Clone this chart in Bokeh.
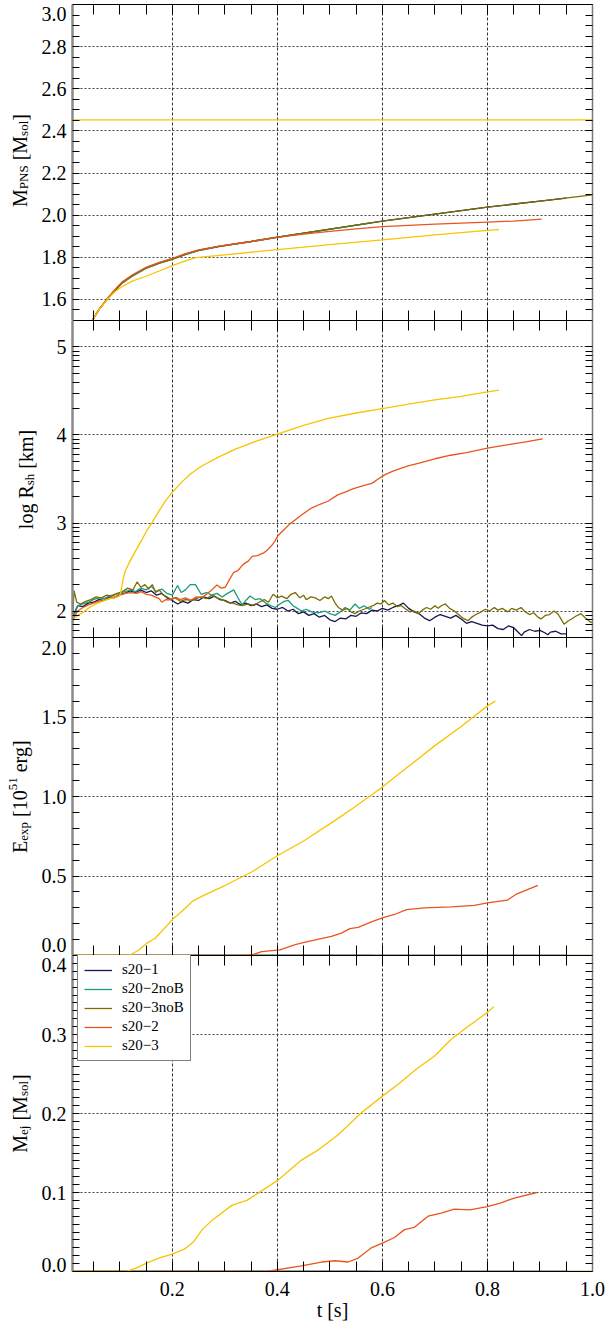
import math
from bokeh.plotting import figure
from bokeh.layouts import column, row
from bokeh.models import (Range1d, FixedTicker, LinearAxis, Label, Legend,
                          LegendItem, PrintfTickFormatter)
from bokeh.embed import file_html
from bokeh.resources import INLINE

# ------------------------------------------------------------------ data
series_names = ["s20\u22121", "s20\u22122noB", "s20\u22123noB", "s20\u22122", "s20\u22123"]
series_colors = ["#16164e", "#1a9c82", "#7b6d00", "#e8561c", "#f8c400"]

x_major_ticks = [0.2, 0.4, 0.6, 0.8, 1.0]
x_grid_ticks = [0.2, 0.4, 0.6, 0.8]

# Panel 1 : M_PNS [M_sol]
t_mpns_s20_1 = [0.045, 0.06, 0.078, 0.09, 0.104, 0.125, 0.15, 0.175, 0.2, 0.225, 0.25, 0.289, 0.35, 0.4, 0.5, 0.6, 0.7, 0.8, 0.9, 0.95]
mpns_s20_1 = [1.49, 1.55, 1.608, 1.64, 1.679, 1.715, 1.75, 1.773, 1.792, 1.815, 1.833, 1.852, 1.875, 1.896, 1.934, 1.972, 2.005, 2.038, 2.067, 2.081]
t_mpns_s20_2nob = [0.045, 0.06, 0.078, 0.09, 0.104, 0.125, 0.15, 0.175, 0.2, 0.225, 0.25, 0.289, 0.35, 0.4, 0.5, 0.58]
mpns_s20_2nob = [1.49, 1.55, 1.606, 1.638, 1.676, 1.712, 1.747, 1.771, 1.790, 1.813, 1.832, 1.851, 1.874, 1.895, 1.933, 1.964]
t_mpns_s20_3nob = [0.045, 0.06, 0.078, 0.09, 0.104, 0.125, 0.15, 0.175, 0.2, 0.225, 0.25, 0.289, 0.35, 0.4, 0.5, 0.6, 0.7, 0.8, 0.9, 1.0]
mpns_s20_3nob = [1.49, 1.55, 1.607, 1.639, 1.678, 1.714, 1.749, 1.772, 1.791, 1.814, 1.833, 1.852, 1.875, 1.896, 1.934, 1.972, 2.005, 2.038, 2.067, 2.096]
t_mpns_s20_2 = [0.045, 0.06, 0.078, 0.09, 0.104, 0.125, 0.15, 0.175, 0.2, 0.225, 0.25, 0.289, 0.35, 0.4, 0.45, 0.5, 0.55, 0.6, 0.7, 0.8, 0.85, 0.903]
mpns_s20_2 = [1.49, 1.55, 1.61, 1.645, 1.682, 1.718, 1.752, 1.776, 1.795, 1.817, 1.835, 1.853, 1.875, 1.895, 1.91, 1.923, 1.935, 1.946, 1.957, 1.967, 1.972, 1.981]
t_mpns_s20_3 = [0.045, 0.06, 0.078, 0.09, 0.104, 0.125, 0.15, 0.175, 0.2, 0.225, 0.243, 0.25, 0.3, 0.4, 0.5, 0.6, 0.7, 0.8, 0.822]
mpns_s20_3 = [1.49, 1.55, 1.605, 1.635, 1.66, 1.688, 1.71, 1.735, 1.76, 1.783, 1.797, 1.80, 1.812, 1.836, 1.86, 1.883, 1.906, 1.928, 1.931]
t_mpns_ref = [0.01, 1.0]
mpns_ref = [2.452, 2.452]

# Panel 2 : log R_sh [km]
t_rsh_s20_1 = [0.010, 0.015, 0.020, 0.030, 0.040, 0.050, 0.060, 0.070, 0.080, 0.090, 0.100, 0.110, 0.120, 0.130, 0.140, 0.150,
               0.160, 0.170, 0.180, 0.190, 0.200, 0.210, 0.220, 0.230, 0.240, 0.250, 0.260, 0.270, 0.280, 0.290, 0.300, 0.310,
               0.320, 0.330, 0.340, 0.350, 0.360, 0.370, 0.380, 0.390, 0.400, 0.410, 0.420, 0.430, 0.440, 0.450, 0.460, 0.470,
               0.480, 0.490, 0.500, 0.510, 0.520, 0.530, 0.540, 0.550, 0.560, 0.570, 0.580, 0.590, 0.600, 0.610, 0.620, 0.630,
               0.640, 0.650, 0.660, 0.670, 0.680, 0.690, 0.700, 0.710, 0.720, 0.730, 0.740, 0.750, 0.760, 0.770, 0.780, 0.790,
               0.800, 0.810, 0.820, 0.830, 0.840, 0.850, 0.860, 0.865, 0.870, 0.880, 0.890, 0.900, 0.910, 0.915, 0.920, 0.930,
               0.940, 0.950]
rsh_s20_1 = [1.95, 2.00, 2.06, 2.05, 2.09, 2.10, 2.13, 2.12, 2.16, 2.15, 2.19, 2.20, 2.23, 2.21, 2.24, 2.21,
             2.23, 2.18, 2.20, 2.15, 2.12, 2.08, 2.11, 2.09, 2.13, 2.12, 2.16, 2.14, 2.17, 2.13, 2.12, 2.09,
             2.11, 2.07, 2.09, 2.06, 2.08, 2.05, 2.07, 2.03, 2.02, 2.04, 2.00, 2.02, 1.97, 1.99, 1.95, 1.97,
             1.93, 1.95, 1.90, 1.88, 1.92, 1.91, 1.95, 1.94, 1.98, 1.97, 2.01, 2.00, 2.03, 2.01, 2.04, 2.06,
             2.09, 2.03, 1.99, 1.97, 1.92, 1.89, 1.93, 1.96, 1.94, 1.92, 1.95, 1.91, 1.86, 1.88, 1.86, 1.84,
             1.83, 1.84, 1.80, 1.79, 1.83, 1.81, 1.75, 1.72, 1.76, 1.79, 1.77, 1.78, 1.75, 1.73, 1.76, 1.77,
             1.74, 1.74]
t_rsh_s20_2nob = [0.010, 0.015, 0.020, 0.030, 0.040, 0.050, 0.060, 0.070, 0.080, 0.090, 0.100, 0.110, 0.120, 0.130, 0.140,
                  0.150, 0.160, 0.170, 0.180, 0.190, 0.200, 0.210, 0.217, 0.225, 0.234, 0.244, 0.255, 0.265, 0.275, 0.285,
                  0.295, 0.305, 0.317, 0.325, 0.333, 0.340, 0.348, 0.358, 0.367, 0.378, 0.388, 0.396, 0.405, 0.413, 0.421,
                  0.430, 0.438, 0.446, 0.455, 0.465, 0.478, 0.490, 0.500, 0.510, 0.520, 0.529, 0.538, 0.548, 0.556, 0.565,
                  0.575, 0.580]
rsh_s20_2nob = [1.85, 1.98, 2.06, 2.08, 2.10, 2.13, 2.15, 2.14, 2.17, 2.19, 2.20, 2.22, 2.24, 2.22, 2.26,
                2.24, 2.28, 2.22, 2.25, 2.20, 2.18, 2.29, 2.21, 2.24, 2.30, 2.30, 2.19, 2.21, 2.18, 2.20,
                2.16, 2.20, 2.24, 2.15, 2.07, 2.12, 2.17, 2.13, 2.14, 2.09, 2.06, 2.04, 2.08, 2.11, 2.12,
                2.06, 2.03, 2.00, 2.02, 1.99, 1.98, 2.00, 1.97, 1.95, 1.99, 2.04, 2.01, 2.08, 2.03, 2.06,
                2.02, 2.04]
t_rsh_s20_3nob = [0.010, 0.013, 0.018, 0.025, 0.035, 0.045, 0.055, 0.065, 0.075, 0.085, 0.095, 0.105, 0.115, 0.125, 0.133,
                  0.140, 0.148, 0.155, 0.162, 0.168, 0.175, 0.183, 0.190, 0.198, 0.205, 0.215, 0.225, 0.235, 0.245, 0.255,
                  0.265, 0.275, 0.285, 0.295, 0.305, 0.315, 0.325, 0.333, 0.345, 0.355, 0.365, 0.375, 0.383, 0.392, 0.400,
                  0.408, 0.418, 0.426, 0.434, 0.443, 0.450, 0.455, 0.464, 0.472, 0.481, 0.490, 0.497, 0.503, 0.510, 0.516,
                  0.525, 0.533, 0.540, 0.548, 0.556, 0.565, 0.573, 0.582, 0.590, 0.597, 0.604, 0.612, 0.620, 0.628, 0.636,
                  0.645, 0.652, 0.660, 0.668, 0.676, 0.684, 0.692, 0.700, 0.706, 0.712, 0.720, 0.728, 0.737, 0.745, 0.753,
                  0.763, 0.770, 0.778, 0.788, 0.796, 0.804, 0.813, 0.820, 0.828, 0.839, 0.846, 0.855, 0.864, 0.872, 0.880,
                  0.888, 0.896, 0.902, 0.910, 0.918, 0.927, 0.935, 0.941, 0.946, 0.952, 0.960, 0.968, 0.978, 0.985, 0.991,
                  0.997, 1.005]
rsh_s20_3nob = [1.90, 2.23, 2.10, 2.08, 2.11, 2.13, 2.16, 2.15, 2.18, 2.17, 2.20, 2.22, 2.26, 2.24, 2.33,
                2.27, 2.30, 2.25, 2.30, 2.21, 2.24, 2.18, 2.16, 2.13, 2.15, 2.11, 2.13, 2.12, 2.14, 2.16,
                2.14, 2.18, 2.15, 2.13, 2.10, 2.09, 2.07, 2.06, 2.08, 2.06, 2.10, 2.13, 2.10, 2.19, 2.15,
                2.17, 2.14, 2.19, 2.21, 2.15, 2.18, 2.13, 2.16, 2.15, 2.12, 2.16, 2.14, 2.17, 2.09, 2.04,
                2.01, 2.03, 1.99, 1.97, 2.00, 2.02, 2.04, 2.06, 2.09, 2.08, 2.12, 2.07, 2.09, 2.05, 2.06,
                2.02, 1.99, 2.00, 1.97, 2.01, 2.04, 2.02, 2.06, 2.03, 2.06, 2.08, 2.03, 2.00, 1.96, 1.92,
                1.89, 1.93, 1.96, 1.99, 2.02, 2.00, 2.04, 2.01, 2.03, 1.99, 2.03, 2.01, 2.04, 1.99, 1.96,
                1.98, 1.93, 1.91, 1.95, 1.96, 2.00, 1.96, 1.90, 1.85, 1.88, 1.91, 1.94, 1.97, 1.93, 1.90,
                1.87, 1.89]
t_rsh_s20_2 = [0.010, 0.020, 0.030, 0.040, 0.050, 0.060, 0.070, 0.080, 0.090, 0.100, 0.110, 0.120, 0.133, 0.140, 0.150,
               0.160, 0.167, 0.175, 0.180, 0.188, 0.193, 0.200, 0.207, 0.215, 0.225, 0.235, 0.245, 0.257, 0.265, 0.275,
               0.285, 0.293, 0.301, 0.309, 0.317, 0.325, 0.335, 0.345, 0.352, 0.362, 0.374, 0.382, 0.390, 0.396, 0.401,
               0.412, 0.424, 0.435, 0.446, 0.465, 0.480, 0.497, 0.515, 0.529, 0.545, 0.567, 0.580, 0.592, 0.605, 0.620,
               0.635, 0.649, 0.670, 0.700, 0.730, 0.760, 0.800, 0.840, 0.870, 0.905]
rsh_s20_2 = [1.90, 2.00, 2.04, 2.07, 2.09, 2.11, 2.12, 2.14, 2.16, 2.18, 2.20, 2.21, 2.20, 2.22, 2.19,
             2.18, 2.16, 2.14, 2.10, 2.13, 2.125, 2.14, 2.156, 2.13, 2.15, 2.12, 2.16, 2.156, 2.19, 2.24,
             2.295, 2.26, 2.27, 2.36, 2.44, 2.46, 2.53, 2.57, 2.62, 2.63, 2.66, 2.70, 2.75, 2.80, 2.856,
             2.92, 2.99, 3.04, 3.09, 3.17, 3.21, 3.25, 3.32, 3.35, 3.39, 3.43, 3.45, 3.50, 3.55, 3.59,
             3.62, 3.65, 3.68, 3.73, 3.77, 3.80, 3.85, 3.89, 3.92, 3.955]
t_rsh_s20_3 = [0.010, 0.020, 0.029, 0.040, 0.048, 0.058, 0.067, 0.080, 0.090, 0.099, 0.102, 0.106, 0.110, 0.118, 0.130,
               0.143, 0.152, 0.162, 0.175, 0.188, 0.200, 0.219, 0.235, 0.257, 0.285, 0.320, 0.360, 0.400, 0.450, 0.497,
               0.550, 0.600, 0.650, 0.700, 0.750, 0.800, 0.822]
rsh_s20_3 = [1.90, 1.95, 1.98, 2.03, 2.06, 2.09, 2.11, 2.14, 2.15, 2.167, 2.21, 2.35, 2.45, 2.55, 2.68,
             2.82, 2.92, 3.01, 3.14, 3.26, 3.35, 3.47, 3.56, 3.65, 3.74, 3.84, 3.93, 4.01, 4.11, 4.19,
             4.25, 4.30, 4.35, 4.40, 4.44, 4.49, 4.51]

# Panel 3 : E_exp [10^51 erg]
t_eexp_s20_1 = [0.01, 0.95]
eexp_s20_1 = [0.0, 0.0]
t_eexp_s20_2nob = [0.01, 0.58]
eexp_s20_2nob = [0.0, 0.0]
t_eexp_s20_3nob = [0.01, 1.0]
eexp_s20_3nob = [0.0, 0.0]
t_eexp_s20_2 = [0.01, 0.33, 0.352, 0.37, 0.405, 0.434, 0.453, 0.503, 0.522, 0.538, 0.554, 0.579, 0.6, 0.623, 0.646,
                0.68, 0.731, 0.775, 0.8, 0.838, 0.854, 0.896]
eexp_s20_2 = [0.0, 0.0, 0.004, 0.025, 0.036, 0.068, 0.084, 0.12, 0.141, 0.169, 0.177, 0.211, 0.236, 0.258, 0.289,
              0.30, 0.306, 0.315, 0.331, 0.348, 0.384, 0.441]
t_eexp_s20_3 = [0.01, 0.118, 0.137, 0.152, 0.168, 0.2, 0.219, 0.238, 0.257, 0.3, 0.352, 0.4, 0.45, 0.51, 0.55, 0.6,
                0.65, 0.7, 0.75, 0.8, 0.815]
eexp_s20_3 = [0.0, 0.0, 0.036, 0.078, 0.11, 0.226, 0.28, 0.34, 0.373, 0.44, 0.527, 0.627, 0.72, 0.85, 0.94, 1.06,
              1.19, 1.32, 1.44, 1.57, 1.60]

# Panel 4 : M_ej [M_sol]
t_mej_s20_1 = [0.01, 0.95]
mej_s20_1 = [0.0, 0.0]
t_mej_s20_2nob = [0.01, 0.58]
mej_s20_2nob = [0.0, 0.0]
t_mej_s20_3nob = [0.01, 1.0]
mej_s20_3nob = [0.0, 0.0]
t_mej_s20_2 = [0.01, 0.38, 0.446, 0.484, 0.51, 0.535, 0.554, 0.579, 0.6, 0.623, 0.642, 0.661, 0.687, 0.712, 0.737,
               0.766, 0.8, 0.826, 0.851, 0.894]
mej_s20_2 = [0.0, 0.0, 0.007, 0.012, 0.0136, 0.012, 0.017, 0.030, 0.036, 0.043, 0.053, 0.056, 0.070, 0.074, 0.079,
             0.078, 0.082, 0.087, 0.093, 0.100]
t_mej_s20_3 = [0.01, 0.111, 0.13, 0.149, 0.174, 0.2, 0.225, 0.241, 0.257, 0.276, 0.314, 0.342, 0.4, 0.446, 0.478,
               0.516, 0.56, 0.6, 0.63, 0.668, 0.7, 0.731, 0.763, 0.8, 0.812]
mej_s20_3 = [0.0, 0.0, 0.004, 0.010, 0.017, 0.022, 0.029, 0.038, 0.053, 0.065, 0.084, 0.09, 0.115, 0.141, 0.154,
             0.173, 0.201, 0.222, 0.237, 0.258, 0.273, 0.294, 0.310, 0.328, 0.335]

# ------------------------------------------------------------------ layout / styling
FONT = "Liberation Serif"
TOTAL_W = 607
TOTAL_H = 1329
TITLE_W = 38                       # strip holding the rotated y titles
PANEL_W = TOTAL_W - TITLE_W
BORDER_LEFT = 70 - TITLE_W         # frame starts at x = 70
FRAME_W = 522
BORDER_RIGHT = PANEL_W - BORDER_LEFT - FRAME_W
x_range = Range1d(0.01, 1.0)
x_tick_marks = [round(0.05 * k, 2) for k in range(1, 21)]

CW = {" ": 250, "[": 333, "]": 333, ".": 250, "M": 889, "P": 556, "N": 722, "S": 556, "R": 667, "E": 611,
      "s": 389, "o": 500, "l": 278, "g": 500, "h": 500, "k": 500, "m": 778, "e": 444, "x": 500, "p": 500,
      "r": 333, "j": 278, "t": 278}


def text_width(txt, size):
    return sum(CW.get(c, 500) for c in txt) * size / 1000.0


def style_axis(ax, major_len, minor_len, labels, line_color="black", line_width=1.0, standoff=6):
    ax.major_tick_in = major_len
    ax.major_tick_out = 0
    ax.minor_tick_in = minor_len
    ax.minor_tick_out = 0
    ax.major_tick_line_color = "black"
    ax.minor_tick_line_color = "black"
    ax.major_tick_line_width = 1
    ax.minor_tick_line_width = 1
    ax.axis_line_color = line_color
    ax.axis_line_width = line_width
    ax.major_label_text_font = FONT
    if labels:
        ax.major_label_text_color = "black"
        ax.major_label_text_font_size = "20px"
        ax.major_label_standoff = standoff
    else:
        ax.major_label_text_color = None
        ax.major_label_text_font_size = "0px"
        ax.major_label_standoff = 0


def make_panel(y0, y1, height, y_labels, y_marks, y_grid, fmt, top=0, bottom=0, x_labels=False,
               overrides=None):
    p = figure(width=PANEL_W, height=height, x_range=x_range, y_range=Range1d(y0, y1),
               output_backend="svg", toolbar_location=None)
    p.min_border_left = BORDER_LEFT
    p.min_border_right = BORDER_RIGHT
    p.min_border_top = top
    p.min_border_bottom = bottom
    p.outline_line_color = None
    p.background_fill_color = "white"
    p.border_fill_color = "white"

    xt = FixedTicker(ticks=x_major_ticks, minor_ticks=x_tick_marks)
    # labelled positions carry no mark of their own; the marks come from the minor list
    yt = FixedTicker(ticks=y_labels, minor_ticks=y_marks)

    xb = p.below[0]
    xb.ticker = xt
    xb.formatter = PrintfTickFormatter(format="%.1f")
    style_axis(xb, 10, 10, x_labels, standoff=10)
    xa = LinearAxis(ticker=xt)
    style_axis(xa, 10, 10, False)
    p.add_layout(xa, "above")

    yl = p.left[0]
    yl.ticker = yt
    yl.formatter = PrintfTickFormatter(format=fmt)
    if overrides:
        yl.major_label_overrides = overrides
    style_axis(yl, 0, 7, True, line_color="#8a8a8a", line_width=2.5, standoff=6)
    yr = LinearAxis(ticker=yt)
    style_axis(yr, 0, 7, False, line_color="#7a7a7a", line_width=1.5)
    p.add_layout(yr, "right")

    p.xgrid.ticker = FixedTicker(ticks=x_grid_ticks)
    p.ygrid.ticker = FixedTicker(ticks=y_grid)
    p.xgrid.grid_line_color = "#333333"
    p.xgrid.grid_line_dash = "3 2"
    p.xgrid.grid_line_width = 1
    p.ygrid.grid_line_color = "#444444"
    p.ygrid.grid_line_dash = "2 2"
    p.ygrid.grid_line_width = 1
    return p, xb


def draw(p, ts, vs, color, lw=1.3):
    return p.line(ts, vs, line_color=color, line_width=lw)


# ------------------------------------------------------------------ panel 1
p1, _ = make_panel(1.5, 3.0, 320,
                   [1.6, 1.8, 2.0, 2.2, 2.4, 2.6, 2.8, 2.957],
                   [round(1.5 + 0.05 * k, 2) for k in range(0, 31)],
                   [1.6, 1.8, 2.0, 2.2, 2.4, 2.6, 2.8], "%.1f", top=4)
draw(p1, t_mpns_ref, mpns_ref, series_colors[4])
draw(p1, t_mpns_s20_1, mpns_s20_1, series_colors[0])
draw(p1, t_mpns_s20_2nob, mpns_s20_2nob, series_colors[1])
draw(p1, t_mpns_s20_3nob, mpns_s20_3nob, series_colors[2])
draw(p1, t_mpns_s20_2, mpns_s20_2, series_colors[3])
draw(p1, t_mpns_s20_3, mpns_s20_3, series_colors[4])

# ------------------------------------------------------------------ panel 2
p2_marks = [round(n + math.log10(k), 4) for n in range(1, 6) for k in range(1, 10)
            if 1.699 <= n + math.log10(k) <= 5.301]
p2, _ = make_panel(1.699, 5.301, 317, [2, 3, 4, 5], p2_marks, [2, 3, 4, 5], "%d")
draw(p2, t_rsh_s20_1, rsh_s20_1, series_colors[0])
draw(p2, t_rsh_s20_2nob, rsh_s20_2nob, series_colors[1])
draw(p2, t_rsh_s20_3nob, rsh_s20_3nob, series_colors[2])
draw(p2, t_rsh_s20_2, rsh_s20_2, series_colors[3])
draw(p2, t_rsh_s20_3, rsh_s20_3, series_colors[4])

# ------------------------------------------------------------------ panel 3
p3, _ = make_panel(0.0, 2.0, 318, [0.066, 0.5, 1.0, 1.5, 1.934],
                   [round(0.1 * k, 2) for k in range(0, 21)], [0.5, 1.0, 1.5], "%.1f",
                   overrides={0.066: "0.0", 1.934: "2.0"})
draw(p3, t_eexp_s20_1, eexp_s20_1, series_colors[0])
draw(p3, t_eexp_s20_2nob, eexp_s20_2nob, series_colors[1])
draw(p3, t_eexp_s20_3nob, eexp_s20_3nob, series_colors[2])
draw(p3, t_eexp_s20_2, eexp_s20_2, series_colors[3])
draw(p3, t_eexp_s20_3, eexp_s20_3, series_colors[4])

# ------------------------------------------------------------------ panel 4
P4_H = TOTAL_H - 320 - 317 - 318
p4, xax = make_panel(0.0, 0.4, P4_H, [0.0076, 0.1, 0.2, 0.3, 0.3886],
                     [round(0.01 * k, 2) for k in range(0, 41)], [0.1, 0.2, 0.3], "%.1f",
                     bottom=P4_H - 316, x_labels=True)
r4 = [
    draw(p4, t_mej_s20_1, mej_s20_1, series_colors[0]),
    draw(p4, t_mej_s20_2nob, mej_s20_2nob, series_colors[1]),
    draw(p4, t_mej_s20_3nob, mej_s20_3nob, series_colors[2]),
    draw(p4, t_mej_s20_2, mej_s20_2, series_colors[3]),
    draw(p4, t_mej_s20_3, mej_s20_3, series_colors[4]),
]
xax.axis_label = "t [s]"
xax.axis_label_text_font = FONT
xax.axis_label_text_font_size = "20px"
xax.axis_label_text_font_style = "normal"
xax.axis_label_text_color = "black"
xax.axis_label_standoff = 0

legend = Legend(items=[LegendItem(label=n, renderers=[r]) for n, r in zip(series_names, r4)],
                location=(5, 210))
legend.label_text_font = FONT
legend.label_text_font_size = "15px"
legend.label_text_color = "black"
legend.glyph_width = 28
legend.glyph_height = 14
legend.label_height = 14
legend.label_standoff = 10
legend.spacing = 2
legend.padding = 6
legend.margin = 0
legend.border_line_color = "black"
legend.border_line_width = 1
legend.background_fill_color = "white"
legend.background_fill_alpha = 1.0
p4.add_layout(legend)

# ------------------------------------------------------------------ rotated y titles (left strip)
tf = figure(width=TITLE_W, height=TOTAL_H, x_range=Range1d(0, TITLE_W), y_range=Range1d(0, TOTAL_H),
            output_backend="svg", toolbar_location=None, x_axis_location=None, y_axis_location=None)
tf.min_border = 0
tf.outline_line_color = None
tf.grid.visible = False
tf.background_fill_color = "white"
tf.border_fill_color = "white"

SP = 5.0


def y_title(center_from_top, anchor_x, pieces):
    # pieces: (text, size, kind, gap_before) ; kind 0 normal, 1 subscript, -1 superscript
    total = sum(gap + text_width(txt, size) for txt, size, kind, gap in pieces)
    pos = (TOTAL_H - center_from_top) - total / 2.0
    for txt, size, kind, gap in pieces:
        pos += gap
        shift = 4 if kind == 1 else (-7 if kind == -1 else 0)
        tf.add_layout(Label(x=anchor_x + shift, y=pos, x_units="data", y_units="data", text=txt,
                            angle=math.pi / 2, text_align="left", text_baseline="alphabetic",
                            text_font=FONT, text_font_size="%dpx" % size, text_color="black"))
        pos += text_width(txt, size)


y_title(160, 19, [("M", 20, 0, 0), ("PNS", 13, 1, 0), ("[M", 20, 0, SP), ("sol", 13, 1, 0), ("]", 20, 0, 0)])
y_title(479, 25, [("log R", 20, 0, 0), ("sh", 13, 1, 0), ("[km]", 20, 0, SP)])
y_title(796, 19, [("E", 20, 0, 0), ("exp", 13, 1, 0), ("[10", 20, 0, SP), ("51", 13, -1, 0), ("erg]", 20, 0, SP)])
y_title(1113, 19, [("M", 20, 0, 0), ("ej", 13, 1, 0), ("[M", 20, 0, SP), ("sol", 13, 1, 0), ("]", 20, 0, 0)])

layout = row(tf, column(p1, p2, p3, p4, spacing=0), spacing=0)
open("out.html", "w").write(file_html(layout, INLINE))
